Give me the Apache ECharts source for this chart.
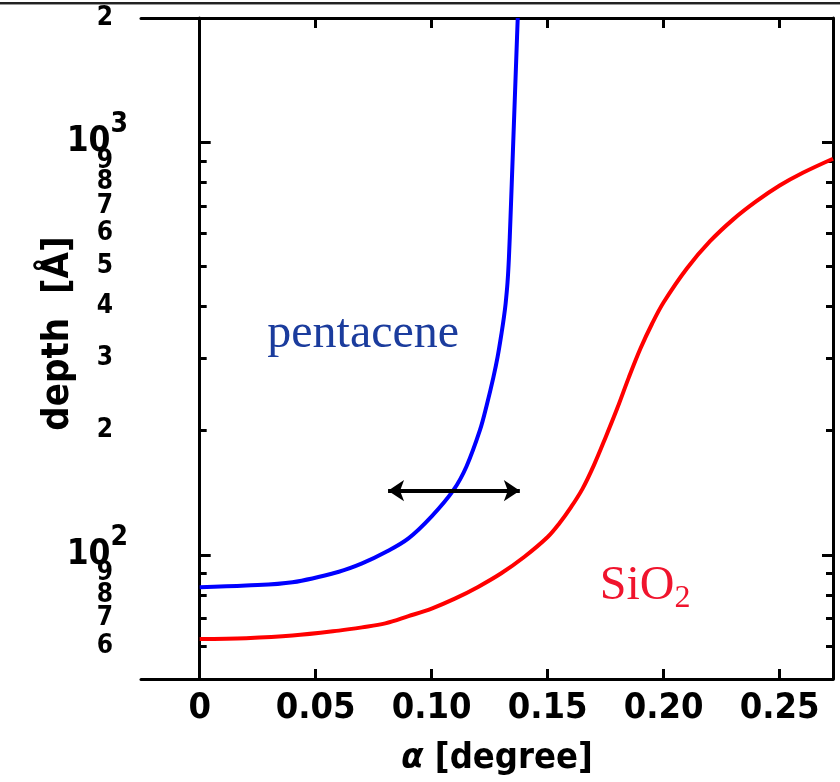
<!DOCTYPE html>
<html>
<head>
<meta charset="utf-8">
<script src="https://cdn.jsdelivr.net/npm/echarts@6/dist/echarts.min.js"></script>
<style>
html,body{margin:0;padding:0;background:#fff;}
#chart{width:840px;height:782px;}
</style>
</head>
<body>
<div id="chart"></div>
<script>
// ---- data ----
const alphaPentacene = [0, 0.02, 0.04, 0.06, 0.07, 0.08, 0.09, 0.10, 0.1093, 0.115, 0.1208, 0.1237, 0.1266, 0.1284, 0.1302, 0.1312, 0.1319, 0.1327, 0.1333, 0.1340, 0.1350, 0.1359, 0.1368, 0.1371];
const depthPentacene = [83.4, 84.2, 85.8, 91.0, 95.3, 101.4, 109.6, 123.9, 143.2, 163.7, 200.4, 230.1, 269.2, 301.3, 346.7, 378.4, 407.4, 457.1, 524.8, 660.7, 944.1, 1303, 1799, 2000];

const alphaSiO2 = [0, 0.02, 0.04, 0.06, 0.07, 0.08, 0.09, 0.10, 0.11, 0.12, 0.13, 0.14, 0.15, 0.155, 0.16, 0.165, 0.17, 0.175, 0.18, 0.185, 0.19, 0.195, 0.20, 0.21, 0.22, 0.23, 0.24, 0.25, 0.26, 0.273];
const depthSiO2 = [62.5, 62.8, 63.7, 65.5, 66.7, 68.2, 71.0, 74.1, 78.3, 83.6, 90.2, 98.9, 110.4, 119.1, 130.3, 144.5, 165.2, 192.8, 226.5, 269.2, 316.2, 363.1, 409.3, 494.3, 575.4, 650.1, 719.5, 785.2, 843.3, 912.0];

const arrowAlpha = [0.0812, 0.138];
const arrowDepth = 143;

const xTicks = [0, 0.05, 0.10, 0.15, 0.20, 0.25];
const xTickLabels = ['0', '0.05', '0.10', '0.15', '0.20', '0.25'];
const yMinorTicks = [60, 70, 80, 90, 200, 300, 400, 500, 600, 700, 800, 900];
const yMajorTicks = [100, 1000];
const yLabelValues = [60, 70, 80, 90, 100, 200, 300, 400, 500, 600, 700, 800, 900, 1000, 2000];
const yLabelTexts = ['6', '7', '8', '9', '10^2', '2', '3', '4', '5', '6', '7', '8', '9', '10^3', '2'];

const xRange = [-0.0253, 0.273];
const yRange = [50, 2000];

const labelFont = '"Liberation Sans Narrow", "DejaVu Sans Condensed", "Arial Narrow", sans-serif';
const serifFont = '"Liberation Serif", "DejaVu Serif", serif';

function zip(a, b) { return a.map((v, i) => [v, b[i]]); }

const chart = echarts.init(document.getElementById('chart'), null, {renderer: 'canvas'});

function yFormatter(v) {
  let idx = yLabelValues.findIndex(t => Math.abs(t - v) / t < 1e-6);
  if (idx < 0) return '';
  const t = yLabelTexts[idx];
  if (t.indexOf('^') >= 0) {
    const p = t.split('^');
    return '{ten|' + p[0] + '}{sup|' + p[1] + '}';
  }
  return '{d|' + t + '}';
}
function xFormatter(v) {
  let idx = xTicks.findIndex(t => Math.abs(t - v) < 1e-9);
  return idx < 0 ? '' : xTickLabels[idx];
}

const baseLine = {show: true, lineStyle: {color: '#000', width: 3}};

const option = {
  backgroundColor: '#fff',
  animation: false,
  grid: {left: 141, right: 7, top: 18, bottom: 98, containLabel: false},
  xAxis: [
    {
      type: 'value', min: xRange[0], max: xRange[1], position: 'bottom',
      axisLine: baseLine,
      splitLine: {show: false},
      axisTick: {show: true, inside: true, length: 10, customValues: xTicks, lineStyle: {color: '#000', width: 3}},
      axisLabel: {show: true, customValues: xTicks, formatter: xFormatter, margin: 12,
        fontFamily: labelFont, fontWeight: 'bold', fontSize: 36, color: '#000'},
      name: '{a|α} [degree]', nameLocation: 'middle', nameGap: 62,
      nameTextStyle: {fontFamily: labelFont, fontWeight: 'bold', fontSize: 36, color: '#000', padding: [0, 0, 0, 20],
        rich: {a: {fontFamily: labelFont, fontWeight: 'bold', fontStyle: 'italic', fontSize: 36, color: '#000'}}}
    },
    {
      type: 'value', min: xRange[0], max: xRange[1], position: 'top',
      axisLine: baseLine,
      splitLine: {show: false},
      axisTick: {show: true, inside: true, length: 10, customValues: xTicks, lineStyle: {color: '#000', width: 3}},
      axisLabel: {show: false}
    }
  ],
  yAxis: [
    {
      type: 'log', logBase: 10, min: yRange[0], max: yRange[1], position: 'left',
      axisLine: baseLine,
      splitLine: {show: false},
      minorTick: {show: false},
      axisTick: {show: true, inside: true, length: 7, customValues: yMinorTicks, lineStyle: {color: '#000', width: 3}},
      axisLabel: {show: true, customValues: yLabelValues, formatter: yFormatter, margin: 13,
        rich: {
          d: {fontFamily: labelFont, fontWeight: 'bold', fontSize: 26, color: '#000', padding: [0, 15, 0, 0]},
          ten: {fontFamily: labelFont, fontWeight: 'bold', fontSize: 35, color: '#000'},
          sup: {fontFamily: labelFont, fontWeight: 'bold', fontSize: 28, color: '#000', padding: [0, 0, 34, 0]}
        }},
      name: 'depth  [Å]', nameLocation: 'middle', nameGap: 64, nameRotate: 90, nameMoveOverlap: false,
      nameTextStyle: {fontFamily: labelFont, fontWeight: 'bold', fontSize: 38, color: '#000', padding: [0, 0, 0, 30]}
    },
    {
      type: 'log', logBase: 10, min: yRange[0], max: yRange[1], position: 'left',
      axisLine: {show: false}, splitLine: {show: false},
      axisTick: {show: true, inside: true, length: 11, customValues: yMajorTicks, lineStyle: {color: '#000', width: 3}},
      axisLabel: {show: false}
    },
    {
      type: 'log', logBase: 10, min: yRange[0], max: yRange[1], position: 'right',
      axisLine: baseLine, splitLine: {show: false},
      axisTick: {show: true, inside: true, length: 7, customValues: yMinorTicks, lineStyle: {color: '#000', width: 3}},
      axisLabel: {show: false}
    },
    {
      type: 'log', logBase: 10, min: yRange[0], max: yRange[1], position: 'right',
      axisLine: {show: false}, splitLine: {show: false},
      axisTick: {show: true, inside: true, length: 11, customValues: yMajorTicks, lineStyle: {color: '#000', width: 3}},
      axisLabel: {show: false}
    }
  ],
  graphic: [
    {type: 'rect', shape: {x: 0, y: 2, width: 840, height: 2}, style: {fill: '#222'}},
    {type: 'rect', shape: {x: 0, y: 4, width: 840, height: 1}, style: {fill: '#999'}}
  ],
  series: [
    {
      name: 'pentacene', type: 'line', xAxisIndex: 0, yAxisIndex: 0,
      data: zip(alphaPentacene, depthPentacene),
      showSymbol: false, smooth: 0.35, clip: true,
      lineStyle: {color: '#0000ff', width: 4},
      markPoint: {
        symbol: 'circle', symbolSize: 0,
        label: {show: true, formatter: 'pentacene', fontFamily: serifFont, fontSize: 48, color: '#1b3c9d'},
        data: [{coord: [0.0705, 342]}]
      }
    },
    {
      name: 'SiO2', type: 'line', xAxisIndex: 0, yAxisIndex: 0,
      data: zip(alphaSiO2, depthSiO2),
      showSymbol: false, smooth: 0.35, clip: true,
      lineStyle: {color: '#ff0000', width: 4},
      markPoint: {
        symbol: 'circle', symbolSize: 0,
        label: {show: true, formatter: 'SiO{sub|2}', fontFamily: serifFont, fontSize: 48, color: '#f0142d',
          rich: {sub: {fontFamily: serifFont, fontSize: 32, color: '#f0142d', padding: [26, 0, 0, 0]}}},
        data: [{coord: [0.192, 84]}]
      },
      markLine: {
        silent: true, symbol: ['arrow', 'arrow'], symbolSize: [16, 16],
        lineStyle: {color: '#000', width: 4, type: 'solid'},
        label: {show: false},
        data: [[{coord: [arrowAlpha[0], arrowDepth]}, {coord: [arrowAlpha[1], arrowDepth]}]]
      }
    }
  ]
};
chart.setOption(option);
</script>
</body>
</html>
